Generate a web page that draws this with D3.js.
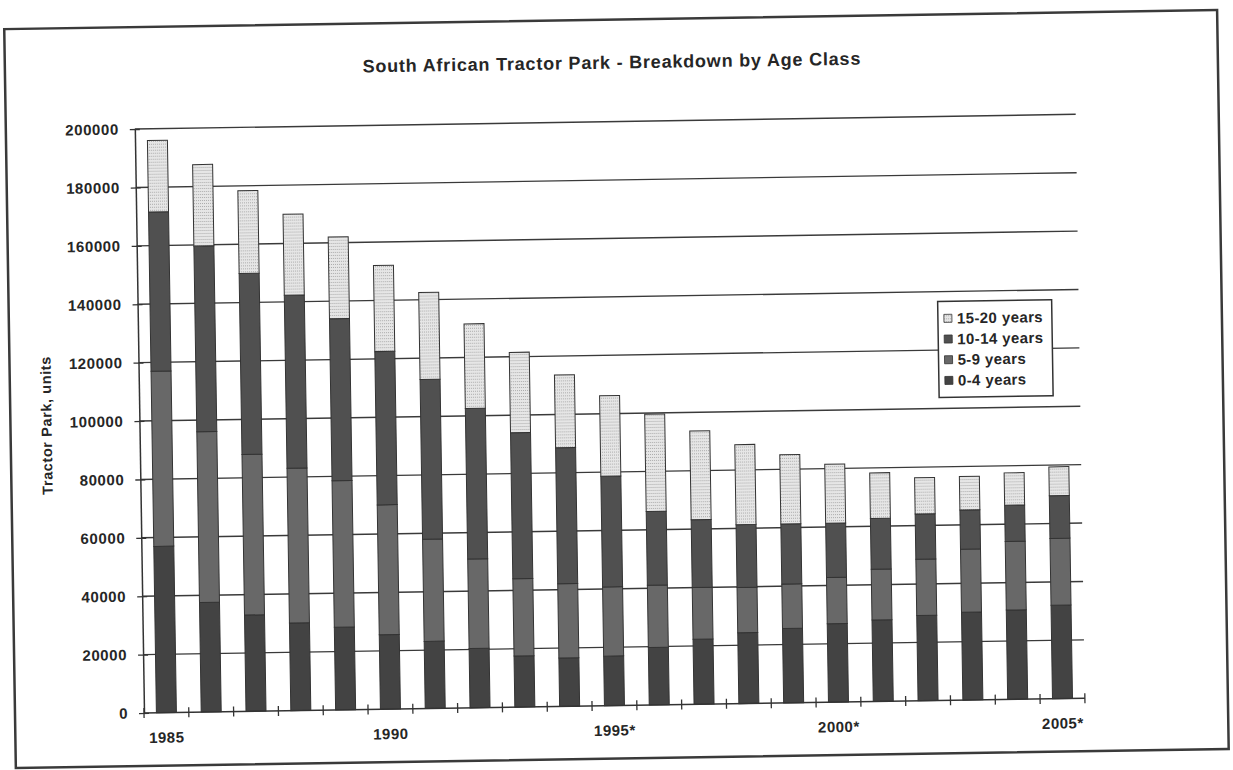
<!DOCTYPE html>
<html>
<head>
<meta charset="utf-8">
<script src="https://cdn.jsdelivr.net/npm/d3@7"></script>
<style>
  body { margin: 0; background: #fff; }
  text { font-family: "Liberation Sans", Arial, sans-serif; font-weight: bold; fill: #262626; }
</style>
</head>
<body>
<svg id="chart" width="1233" height="770"></svg>
<script>
var years = [1985, 1986, 1987, 1988, 1989, 1990, 1991, 1992, 1993, 1994, 1995,
             1996, 1997, 1998, 1999, 2000, 2001, 2002, 2003, 2004, 2005];
var yearLabels = {1985: "1985", 1990: "1990", 1995: "1995*", 2000: "2000*", 2005: "2005*"};

var age0_4   = [57000, 37500, 33000, 30000, 28300, 25500, 23000, 20300, 17500, 16600, 17000,
                19700, 22300, 24300, 25500, 26900, 27900, 29200, 30100, 30600, 32000];
var age5_9   = [60000, 58500, 55000, 53000, 50200, 44500, 35000, 30700, 26500, 25400, 23700,
                21300, 17700, 15500, 15200, 15800, 17400, 19300, 21600, 23500, 22900];
var age10_14 = [54500, 63600, 62000, 59300, 55500, 52500, 54700, 51500, 50000, 46600, 37900,
                25300, 23200, 21500, 20600, 18600, 17400, 15500, 13400, 12400, 14600];
var age15_20 = [24500, 27900, 28300, 27700, 28000, 29500, 29800, 29000, 27500, 24900, 27600,
                33300, 30400, 27400, 23700, 20200, 15600, 12400, 11500, 11100, 9900];

var yTicks = [0, 20000, 40000, 60000, 80000, 100000, 120000, 140000, 160000, 180000, 200000];

var seriesKeys = ["0-4 years", "5-9 years", "10-14 years", "15-20 years"];
var seriesVals = [age0_4, age5_9, age10_14, age15_20];

var rows = years.map(function(y, i) {
  var r = { year: y };
  seriesKeys.forEach(function(k, j) { r[k] = seriesVals[j][i]; });
  return r;
});

var svg = d3.select("#chart");
svg.append("rect").attr("width", 1233).attr("height", 770).attr("fill", "#fff");

// light dotted texture for the oldest class
var defs = svg.append("defs");
var pat = defs.append("pattern").attr("id", "dots")
  .attr("width", 2).attr("height", 3).attr("patternUnits", "userSpaceOnUse");
pat.append("rect").attr("width", 2).attr("height", 3).attr("fill", "#e6e6e6");
pat.append("rect").attr("width", 1).attr("height", 1).attr("fill", "#ababab");

var colors = {
  "0-4 years": "#434343",
  "5-9 years": "#686868",
  "10-14 years": "#505050",
  "15-20 years": "url(#dots)"
};

// the scan is tilted slightly
var ox = 144, oy = 713;
var g = svg.append("g").attr("transform", "rotate(-0.9 " + ox + " " + oy + ")");

// frame
g.append("rect")
  .attr("x", 15).attr("y", 27).attr("width", 1213).attr("height", 739)
  .attr("fill", "none").attr("stroke", "#3a3a3a").attr("stroke-width", 2.5);

var x = d3.scaleBand().domain(years).range([ox, 1085]).paddingInner(0.5536).paddingOuter(0.2768);
var y = d3.scaleLinear().domain([0, 200000]).range([oy, 129]);

// gridlines
g.selectAll("line.grid").data(yTicks.slice(1)).enter().append("line")
  .attr("class", "grid")
  .attr("x1", ox).attr("x2", 1085)
  .attr("y1", function(d) { return y(d); }).attr("y2", function(d) { return y(d); })
  .attr("stroke", "#3a3a3a").attr("stroke-width", 1.4);

// stacked bars
var stack = d3.stack().keys(seriesKeys)(rows);
g.selectAll("g.series").data(stack).enter().append("g")
  .attr("class", "series")
  .attr("fill", function(d) { return colors[d.key]; })
  .selectAll("rect").data(function(d) { return d; }).enter().append("rect")
  .attr("x", function(d) { return x(d.data.year); })
  .attr("width", x.bandwidth())
  .attr("y", function(d) { return y(d[1]); })
  .attr("height", function(d) { return y(d[0]) - y(d[1]); })
  .attr("stroke", "#333").attr("stroke-width", 1);

// y axis
var yAxis = d3.axisLeft(y).tickValues(yTicks).tickSizeInner(5).tickSizeOuter(0)
  .tickPadding(12).tickFormat(d3.format("d"));
var ya = g.append("g").attr("transform", "translate(" + ox + ",0)").call(yAxis);
ya.selectAll(".tick line").attr("x2", 5).attr("x1", -5).attr("stroke", "#333").attr("stroke-width", 1.3);
ya.select(".domain").attr("stroke", "#333").attr("stroke-width", 1.5);
ya.selectAll("text").style("font-size", "15px").style("letter-spacing", "0.6px")
  .style("font-family", "Liberation Sans, Arial, sans-serif")
  .style("font-weight", "bold").attr("fill", "#262626").attr("x", -16);

// x axis: ticks between categories
var step = x.step();
var xTickPos = d3.range(years.length + 1).map(function(i) { return ox + i * step; });
g.append("line").attr("x1", ox).attr("x2", 1085).attr("y1", oy).attr("y2", oy)
  .attr("stroke", "#333").attr("stroke-width", 1.5);
g.selectAll("line.xtick").data(xTickPos).enter().append("line")
  .attr("class", "xtick")
  .attr("x1", function(d) { return d; }).attr("x2", function(d) { return d; })
  .attr("y1", oy - 5).attr("y2", oy + 5)
  .attr("stroke", "#333").attr("stroke-width", 1.3);

g.selectAll("text.xlab").data(years.filter(function(d) { return yearLabels[d]; })).enter().append("text")
  .attr("class", "xlab")
  .attr("x", function(d) { return x(d) + x.bandwidth() / 2; })
  .attr("y", oy + 30)
  .attr("text-anchor", "middle")
  .style("font-size", "15px").style("letter-spacing", "0.5px")
  .text(function(d) { return yearLabels[d]; });

// axis title
g.append("text")
  .attr("transform", "translate(51,424) rotate(-90)")
  .attr("text-anchor", "middle").attr("dy", "0.35em")
  .style("font-size", "14.5px").style("letter-spacing", "0.6px")
  .text("Tractor Park, units");

// chart title
g.append("text")
  .attr("x", 622).attr("y", 76)
  .attr("text-anchor", "middle")
  .style("font-size", "18px").style("letter-spacing", "0.8px")
  .text("South African Tractor Park - Breakdown by Age Class");

// legend
var leg = g.append("g").attr("transform", "translate(944,314)");
leg.append("rect").attr("width", 114).attr("height", 96)
  .attr("fill", "#fff").attr("stroke", "#333").attr("stroke-width", 1.5);
var legKeys = seriesKeys.slice().reverse();
var li = leg.selectAll("g.li").data(legKeys).enter().append("g")
  .attr("class", "li")
  .attr("transform", function(d, i) { return "translate(6," + (17 + i * 20.7) + ")"; });
li.append("rect").attr("x", 0).attr("y", -4).attr("width", 8).attr("height", 8)
  .attr("fill", function(d) { return colors[d]; }).attr("stroke", "#333").attr("stroke-width", 0.8);
li.append("text").attr("x", 13).attr("dy", "0.35em")
  .style("font-size", "15px").style("letter-spacing", "0.4px")
  .text(function(d) { return d; });
</script>
</body>
</html>
